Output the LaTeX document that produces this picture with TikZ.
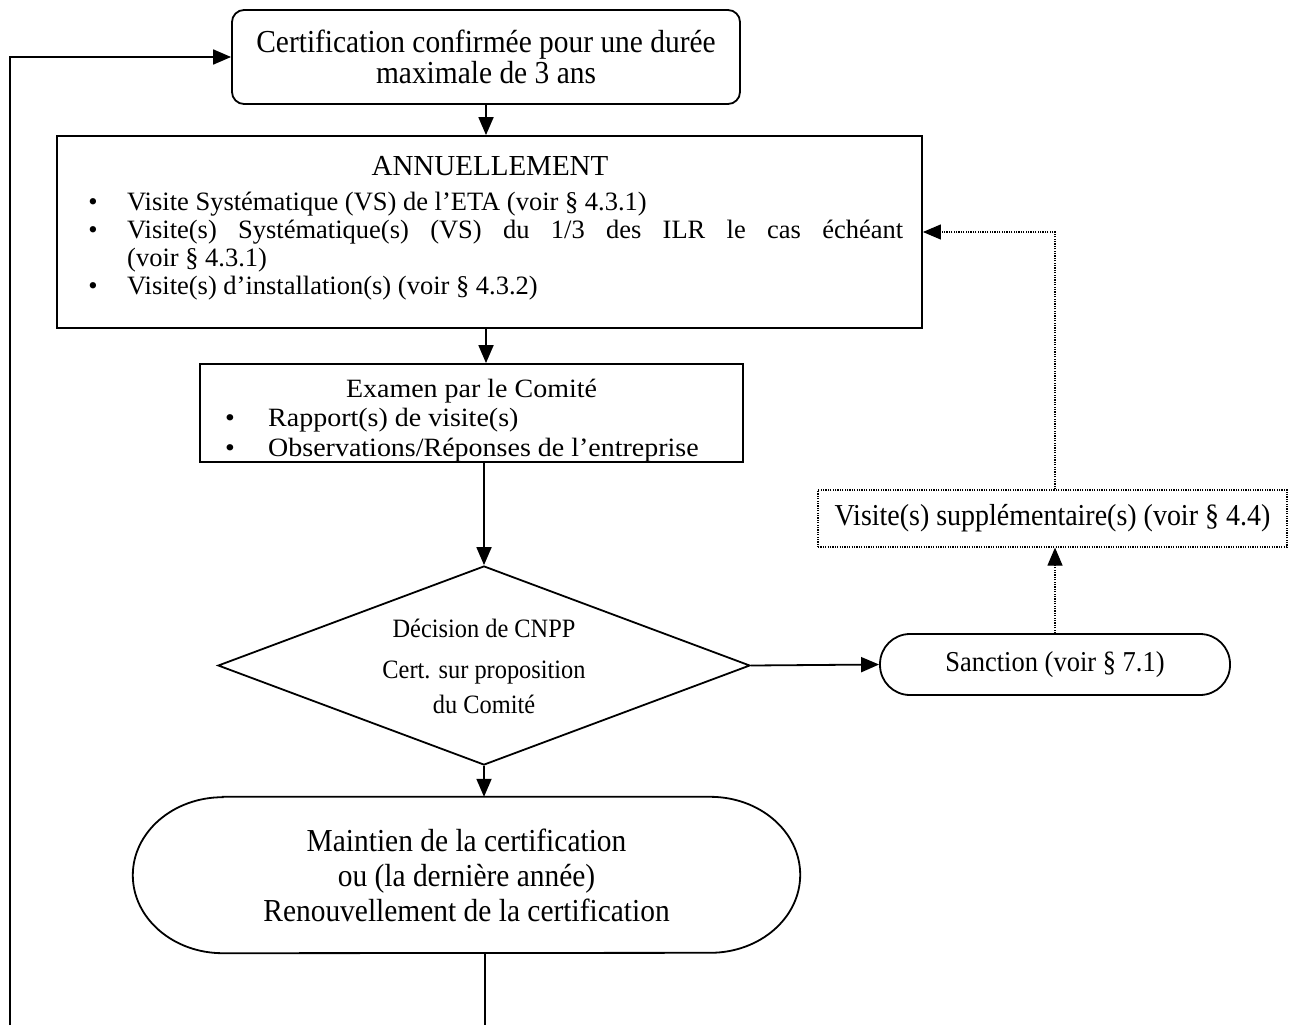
\documentclass[tikz,border=0pt]{standalone}
\usepackage{fontspec}
\setmainfont{Liberation Serif}
\newfontfamily\tallfont[FakeStretch=0.92]{Liberation Serif}
\newfontfamily\widefont[FakeStretch=1.06]{Liberation Serif}
\usetikzlibrary{shapes.geometric,arrows.meta}
\begin{document}
\begin{tikzpicture}[x=1pt,y=-1pt,
  ln/.style={line width=1.8pt},
  arr/.style={line width=1.8pt,-{Triangle[length=18pt,width=15pt]}},
  dotarr/.style={line width=1.2pt,dash pattern=on 1.2pt off 1.2pt,-{Triangle[length=18pt,width=15pt]}},
  boxst/.style={draw,line width=1.8pt,inner sep=0pt},
  txt/.style={inner sep=0pt,anchor=base west},
  ctxt/.style={inner sep=0pt,anchor=base},
  ftop/.style={font=\tallfont\fontsize{32}{31}\selectfont},
  fann/.style={font=\fontsize{26.5}{28}\selectfont},
  fex/.style={font=\widefont\fontsize{26.4}{30}\selectfont},
  fdia/.style={font=\tallfont\fontsize{26.5}{28}\selectfont},
  fsan/.style={font=\tallfont\fontsize{28.8}{30}\selectfont},
  fvs/.style={font=\tallfont\fontsize{30.4}{30}\selectfont},
  fmt/.style={font=\tallfont\fontsize{32}{35}\selectfont}]
\useasboundingbox (0,0) rectangle (1295,1025);
% top box
\node[boxst,rounded corners=12pt,minimum width=508pt,minimum height=94pt,align=center,ftop] (top) at (486,57)
  {Certification confirmée pour une durée\\maximale de 3 ans};
% annuellement box
\node[boxst,minimum width=865pt,minimum height=192pt] (annu) at (489.5,232) {};
\node[ctxt,font=\fontsize{29}{30}\selectfont] (a0) at (490,175) {ANNUELLEMENT};
\node[ctxt,fann] (b1) at (93,210) {\textbullet};
\node[txt,fann] (a1) at (127,210) {Visite Systématique (VS) de l’ETA (voir § 4.3.1)};
\node[ctxt,fann] (b2) at (93,238) {\textbullet};
\node[txt,fann] (a2) at (127,238) {\makebox[776pt][s]{Visite(s) Systématique(s) (VS) du 1/3 des ILR le cas échéant}};
\node[txt,fann] (a3) at (127,266) {(voir § 4.3.1)};
\node[ctxt,fann] (b4) at (93,294) {\textbullet};
\node[txt,fann] (a4) at (127,294) {Visite(s) d’installation(s) (voir § 4.3.2)};
% examen box
\node[boxst,minimum width=543pt,minimum height=98pt] (exam) at (471.5,413) {};
\node[ctxt,fex] (e0) at (471.5,397) {Examen par le Comité};
\node[ctxt,fex] (eb1) at (230,426) {\textbullet};
\node[txt,fex] (e1) at (268,426) {Rapport(s) de visite(s)};
\node[ctxt,fex] (eb2) at (230,456) {\textbullet};
\node[txt,fex] (e2) at (268,456) {Observations/Réponses de l’entreprise};
% diamond
\node[boxst,diamond,minimum width=532pt,minimum height=199pt] (diam) at (484,665.5) {};
\node[ctxt,fdia] (d1) at (484,637) {Décision de CNPP};
\node[ctxt,fdia] (d2) at (484,678) {Cert. sur proposition};
\node[ctxt,fdia] (d3) at (484,713) {du Comité};
% sanction
\node[boxst,rounded corners=30pt,minimum width=350pt,minimum height=61pt,fsan] (sanc) at (1055,664.5) {Sanction (voir § 7.1)};
% visite supplementaire
\node[draw,line width=1.2pt,dash pattern=on 1.2pt off 1.2pt,inner sep=0pt,minimum width=469pt,minimum height=57pt,fvs] (vsup) at (1052.5,518.5) {Visite(s) supplémentaire(s) (voir § 4.4)};
% maintien
\node[inner sep=0pt,minimum width=667pt,minimum height=156pt,align=center,fmt] (maint) at (466.5,875)
  {Maintien de la certification\\ou (la dernière année)\\Renouvellement de la certification};
\draw[ln] ([xshift=90pt]maint.north west) -- ([xshift=-90pt]maint.north east)
  arc[start angle=90,end angle=-90,x radius=90pt,y radius=78pt]
  -- ([xshift=90pt]maint.south west)
  arc[start angle=270,end angle=90,x radius=90pt,y radius=78pt] -- cycle;
% connectors
\coordinate (L0) at (10,1025);
\coordinate (B0) at (485,1025);
\draw[arr] (L0) |- (top.west);
\draw[arr] (top.south) -- (top.south |- annu.north);
\draw[arr] (annu.south -| top.south) -- (exam.north -| top.south);
\draw[arr] (exam.south -| diam.north) -- (diam.north);
\draw[arr] (diam.east) -- (sanc.west);
\draw[dotarr] (sanc.north) -- (sanc.north |- vsup.south);
\draw[dotarr] (vsup.north -| sanc.north) |- (annu.east);
\draw[arr] (diam.south) -- (diam.south |- maint.north);
\draw[ln] (B0 |- maint.south) -- (B0);
\end{tikzpicture}
\end{document}
